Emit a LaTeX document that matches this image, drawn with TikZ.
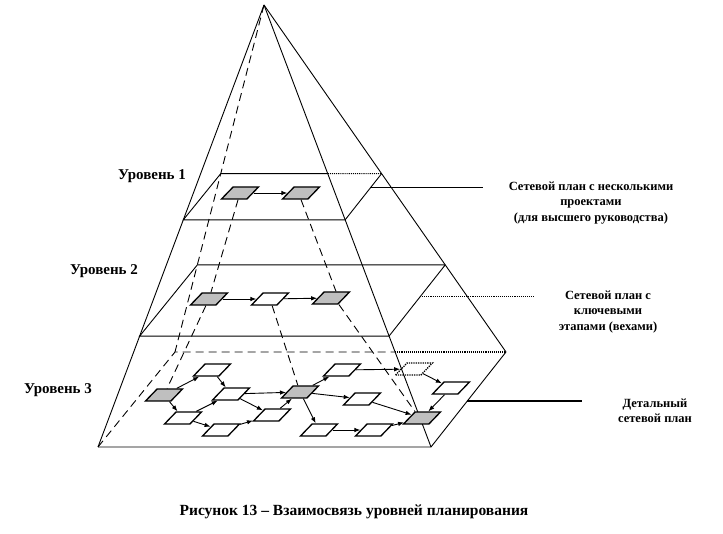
\documentclass[tikz,border=0pt]{standalone}
\usepackage{fontspec}
\setmainfont{Liberation Serif}
\usetikzlibrary{shapes.geometric,calc,arrows.meta}

\begin{document}
\begin{tikzpicture}[x=1pt, y=-1pt,
		stage_style/.style={trapezium, trapezium left angle=50, trapezium right angle=130, trapezium stretches=true,
			minimum width=37pt, minimum height=12pt, inner sep=1pt, draw=black, line width=1.3pt, fill=white},
		key_style/.style={stage_style, fill=gray!50},
		ghost_style/.style={stage_style, densely dotted, fill=none},
		edge_style/.style={draw=black, line width=0.9pt},
		hidden_style/.style={draw=black, line width=0.9pt, dash pattern=on 8pt off 5pt},
		back_style/.style={draw=black, line width=1.1pt, densely dotted},
		flow_style/.style={draw=black, line width=0.9pt, -{Latex[length=6pt,width=4.5pt]}},
		level_style/.style={font=\bfseries\fontsize{15}{17}\selectfont},
		note_style/.style={font=\bfseries\fontsize{12.5}{15.5}\selectfont, align=center}]
		
		\useasboundingbox (0,0) rectangle (723,534);
		
		% pyramid
		\coordinate (apex) at (264,5);
		\coordinate (fl) at (98,447);
		\coordinate (fr) at (431,447);
		\coordinate (br) at (506,352);
		\coordinate (bl) at (175,352);
		
		\coordinate (l1fl) at ($(apex)!0.486!(fl)$);
		\coordinate (l1fr) at ($(apex)!0.486!(fr)$);
		\coordinate (l1br) at ($(apex)!0.486!(br)$);
		\coordinate (l1bl) at ($(apex)!0.486!(bl)$);
		\coordinate (l2fl) at ($(apex)!0.749!(fl)$);
		\coordinate (l2fr) at ($(apex)!0.749!(fr)$);
		\coordinate (l2br) at ($(apex)!0.749!(br)$);
		\coordinate (l2bl) at ($(apex)!0.749!(bl)$);
		
		\draw[edge_style] (apex) -- (fl);
		\draw[edge_style] (apex) -- (fr);
		\draw[edge_style] (apex) -- (br);
		\draw[hidden_style] (apex) -- (bl);
		
		% level planes
		\draw[edge_style] (l1bl) -- (l1fl) -- (l1fr) -- (l1br);
		\draw[edge_style] (l1bl) -- ($(l1bl)!0.665!(l1br)$);
		\draw[back_style] ($(l1bl)!0.665!(l1br)$) -- (l1br);
		
		\draw[edge_style] (l2br) -- (l2bl) -- (l2fl) -- (l2fr) -- (l2br);
		
		\draw[edge_style] (fl) -- (fr) -- (br);
		\draw[hidden_style] (fl) -- (bl) -- ($(bl)!0.665!(br)$);
		\draw[back_style] ($(bl)!0.665!(br)$) -- (br);
		
		% pointers
		\coordinate (p1) at ($(l1fr)!0.69!(l1br)$);
		\coordinate (p2) at ($(l2fr)!0.55!(l2br)$);
		\coordinate (p3) at ($(fr)!0.484!(br)$);
		\coordinate (t1) at (483,188);
		\coordinate (t2) at (535,297);
		\coordinate (t3) at (582,401);
		\draw[edge_style, line width=1.1pt] (p1) -- (p1 -| t1);
		\draw[back_style] (p2) -- (p2 -| t2);
		\draw[edge_style, line width=1.3pt] (p3) -- (p3 -| t3);
		
		% level 1
		\node[key_style] (a1) at (240,193) {};
		\node[key_style] (a2) at (301,193) {};
		
		% level 2
		\node[key_style] (b1) at (209,299) {};
		\node[stage_style] (b2) at (270,299) {};
		\node[key_style] (b3) at (331,298) {};
		
		% level 3
		\node[key_style] (c1) at (164,395) {};
		\node[stage_style] (c2) at (212,370) {};
		\node[stage_style] (c3) at (183,418) {};
		\node[stage_style] (c4) at (231,394) {};
		\node[stage_style] (c5) at (221,430) {};
		\node[stage_style] (c6) at (272,415) {};
		\node[key_style] (c7) at (300,392) {};
		\node[stage_style] (c8) at (319,430) {};
		\node[stage_style] (c9) at (342,370) {};
		\node[stage_style] (c10) at (362,399) {};
		\node[stage_style] (c11) at (374,430) {};
		\node[ghost_style] (c12) at (414,369) {};
		\node[stage_style] (c13) at (451,388) {};
		\node[key_style] (c14) at (422,418) {};
		
		\draw[flow_style] (a1) -- (a2);
		\draw[flow_style] (b1) -- (b2);
		\draw[flow_style] (b2) -- (b3);
		
		\draw[flow_style] (c1) -- (c2);
		\draw[flow_style] (c1) -- (c3);
		\draw[flow_style] (c2) -- (c4);
		\draw[flow_style] (c3) -- (c4);
		\draw[flow_style] (c3) -- (c5);
		\draw[flow_style] (c4) -- (c6);
		\draw[flow_style] (c5) -- (c6);
		\draw[flow_style] (c4) -- (c7);
		\draw[flow_style] (c6) -- (c7);
		\draw[flow_style] (c7) -- (c9);
		\draw[flow_style] (c7) -- (c10);
		\draw[flow_style] (c7) -- (c8);
		\draw[flow_style] (c9) -- (c12);
		\draw[flow_style] (c12) -- (c13);
		\draw[flow_style] (c13) -- (c14);
		\draw[flow_style] (c10) -- (c14);
		\draw[flow_style] (c8) -- (c11);
		\draw[flow_style] (c11) -- (c14);
		
		% links between levels
		\draw[hidden_style] (a1) -- (b1);
		\draw[hidden_style] (b1) -- (c1);
		\draw[hidden_style] (a2.south) -- ([xshift=5pt]b3.north);
		\draw[hidden_style] ([xshift=8pt]b3.south) -- (c14.top left corner);
		\draw[hidden_style] (b2) -- (c7);
		
		% labels
		\node[level_style] (lev1) at (152,176) {Уровень 1};
		\node[level_style] (lev2) at (104,271) {Уровень 2};
		\node[level_style] (lev3) at (58,390) {Уровень 3};
		
		\node[note_style] (n1) at (591,203) {Сетевой план с несколькими\\проектами\\(для высшего руководства)};
		\node[note_style] (n2) at (608,312) {Сетевой план с\\ключевыми\\этапами (вехами)};
		\node[note_style] (n3) at (655,411) {Детальный\\сетевой план};
		
		\node[level_style, font=\bfseries\fontsize{15.5}{17}\selectfont] (cap) at (354,512) {Рисунок 13 – Взаимосвязь уровней планирования};
		
\end{tikzpicture}
\end{document}
